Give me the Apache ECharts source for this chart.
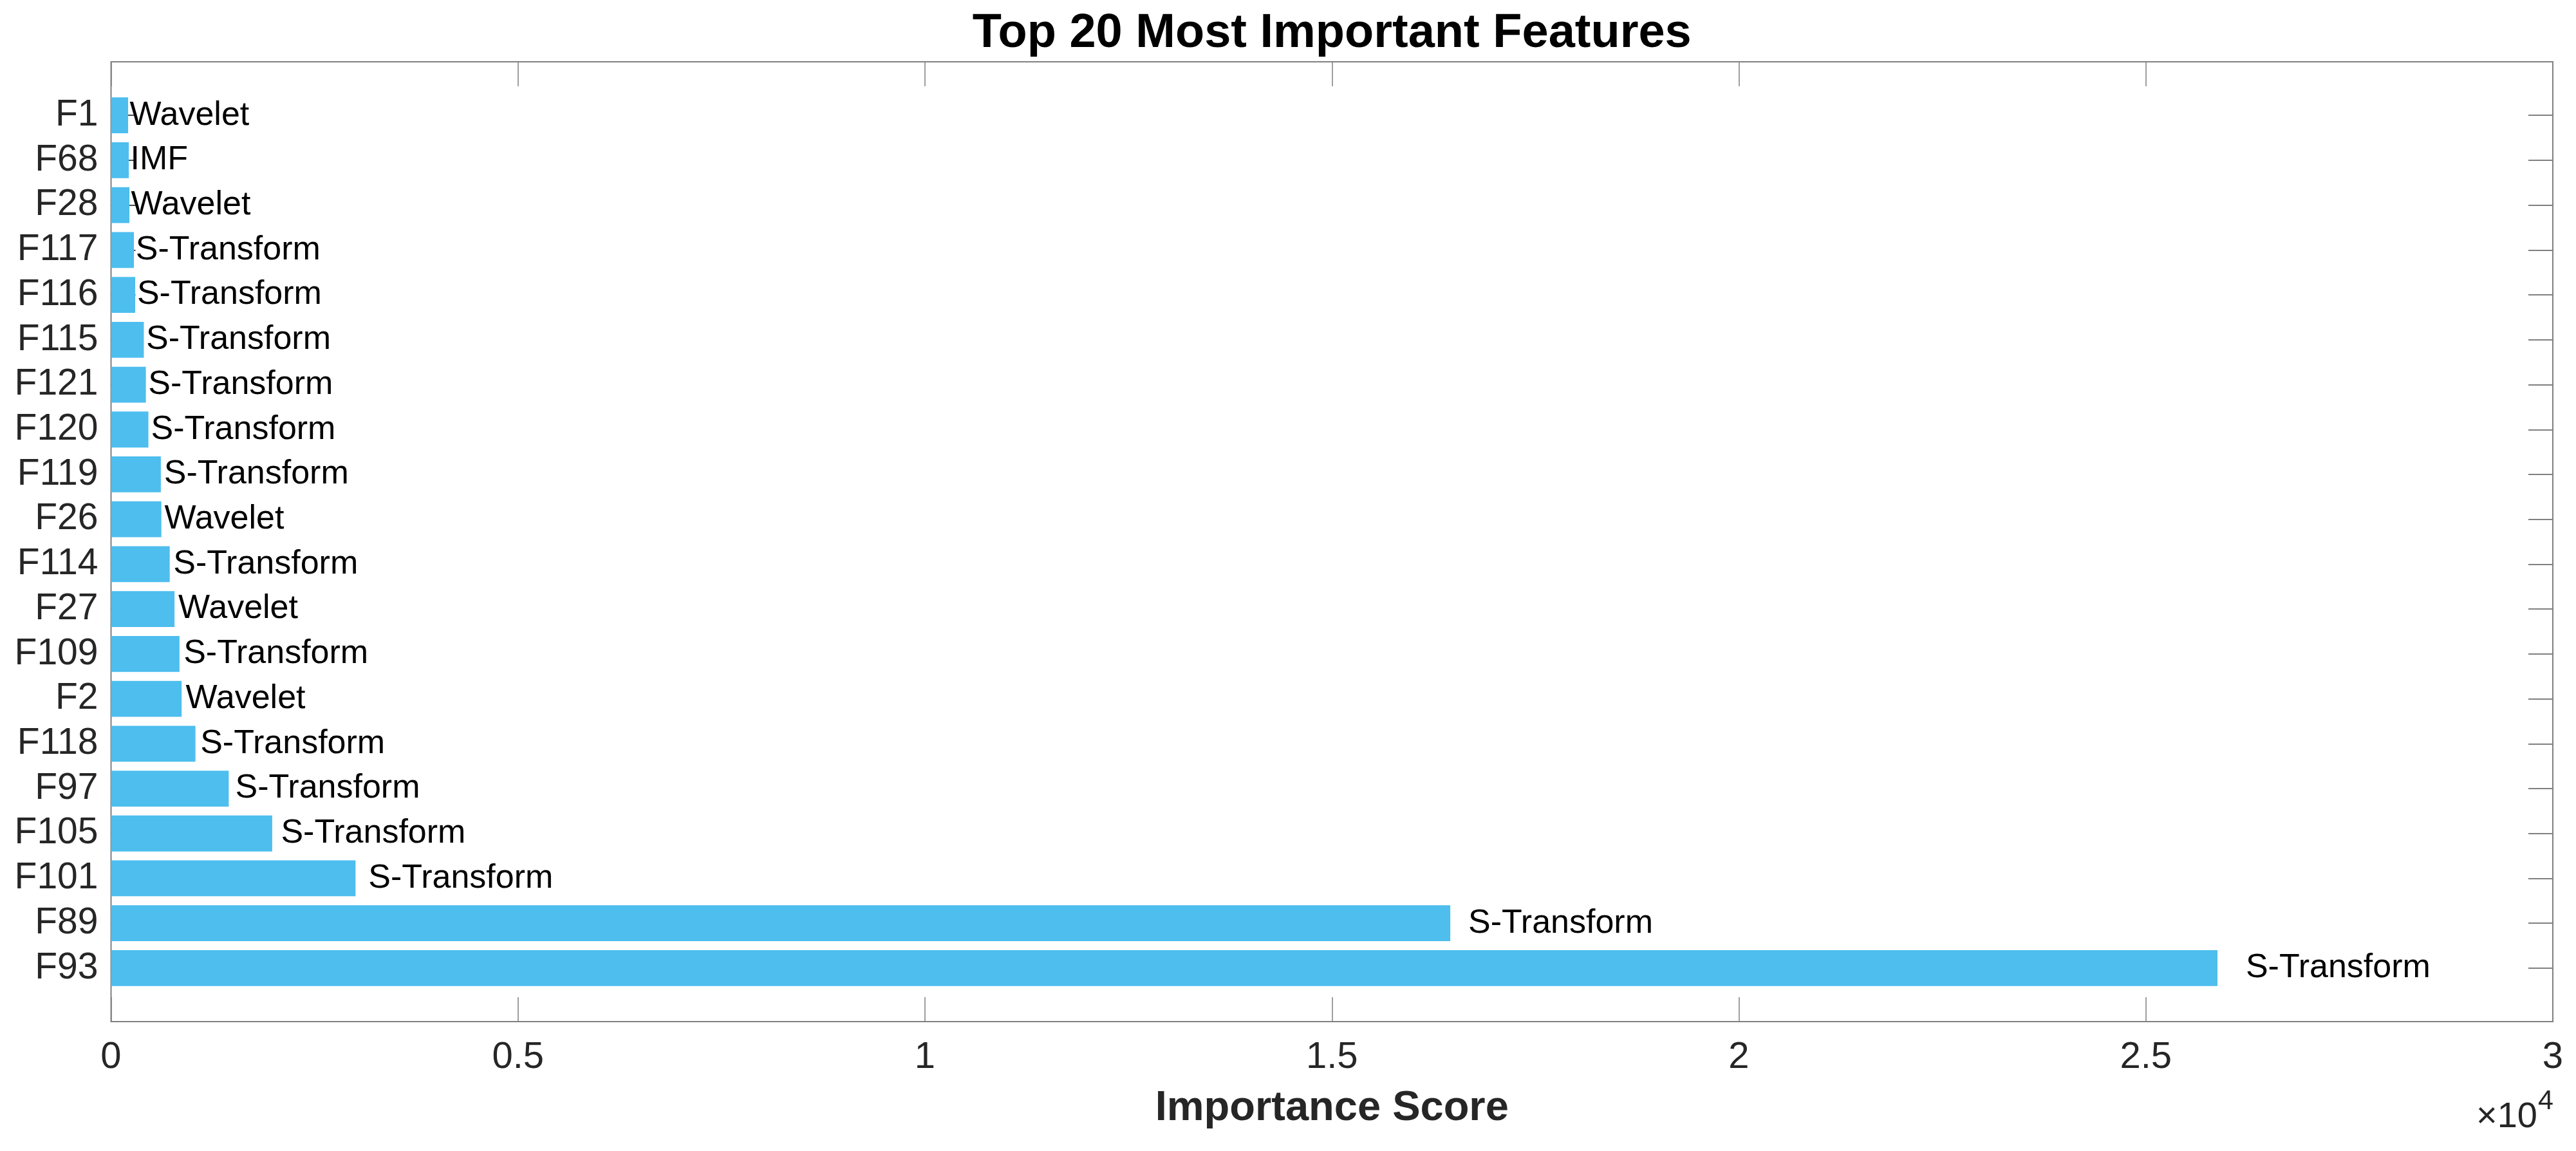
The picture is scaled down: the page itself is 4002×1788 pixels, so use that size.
<!DOCTYPE html>
<html>
<head>
<meta charset="utf-8">
<script src="https://cdn.jsdelivr.net/npm/echarts@6/dist/echarts.min.js"></script>
<style>
html,body{margin:0;padding:0;background:#fff;}
#chart{width:4002px;height:1788px;}
</style>
</head>
<body>
<div id="chart"></div>
<script>
// ---- data (top to bottom) ----
const features = ['F1','F68','F28','F117','F116','F115','F121','F120','F119','F26','F114','F27','F109','F2','F118','F97','F105','F101','F89','F93'];
const scores   = [210, 218, 226, 281, 297, 403, 428, 459, 612, 618, 721, 780, 841, 867, 1037, 1446, 1980, 3004, 16454, 25880];
const types    = ['Wavelet','IMF','Wavelet','S-Transform','S-Transform','S-Transform','S-Transform','S-Transform','S-Transform','Wavelet','S-Transform','Wavelet','S-Transform','Wavelet','S-Transform','S-Transform','S-Transform','S-Transform','S-Transform','S-Transform'];
const xTicks   = [0, 5000, 10000, 15000, 20000, 25000, 30000];

const FONT = "'Liberation Sans', Arial, Helvetica, sans-serif";
const W = 4002, H = 1788;
const plotL = 172.5, plotR = 3966, plotT = 96, plotB = 1587;
const slot = 69.72;
const xMax = xTicks[xTicks.length - 1];
const xStep = xTicks[1] - xTicks[0];
const pxPerUnit = (plotR - plotL) / xMax;

const cats = [' '].concat(features).concat(['  ']);
const barData = ['-'].concat(scores.map(function (v) {
  const len = v * pxPerUnit;
  const d = len <= 400 ? 0.05 * len + 1 : 0.0134 * len;
  return { value: v, label: { distance: d } };
})).concat(['-']);

const chart = echarts.init(document.getElementById('chart'), null, {renderer: 'canvas'});
const frameColor = '#808080';
const tickColor = '#4a4a4a';
const textColor = '#262626';

const option = {
  animation: false,
  backgroundColor: '#ffffff',
  title: [
    {
      text: 'Top 20 Most Important Features',
      left: (plotL + plotR) / 2, textAlign: 'center', top: 15.5, padding: 0,
      textStyle: { fontFamily: FONT, fontSize: 74, fontWeight: 'bold', color: '#000' }
    },
    {
      text: '\u00d710',
      left: 3942, textAlign: 'right', top: 1708, padding: 0,
      textStyle: { fontFamily: FONT, fontSize: 56, fontWeight: 'normal', color: textColor }
    },
    {
      text: '4',
      left: 3943, textAlign: 'left', top: 1690, padding: 0,
      textStyle: { fontFamily: FONT, fontSize: 43, fontWeight: 'normal', color: textColor }
    }
  ],
  grid: [
    { left: plotL, right: W - plotR, top: plotT, bottom: H - plotB, show: true, borderColor: frameColor, borderWidth: 2, backgroundColor: 'transparent', containLabel: false },
    { left: plotL, right: W - plotR, top: plotT + 13.5, height: slot * 21, containLabel: false }
  ],
  xAxis: [
    {
      gridIndex: 0, type: 'value', min: 0, max: xMax, interval: xStep, position: 'bottom',
      axisLine: { show: false },
      axisTick: { show: true, inside: true, length: 38, lineStyle: { color: frameColor, width: 1.5 } },
      splitLine: { show: false },
      axisLabel: { show: true, margin: 27, fontFamily: FONT, fontSize: 58, color: textColor,
        formatter: function (v) { return String(v / 10000); } },
      name: 'Importance Score', nameLocation: 'middle', nameGap: 103,
      nameTextStyle: { fontFamily: FONT, fontSize: 65, fontWeight: 'bold', color: textColor }
    },
    {
      gridIndex: 0, type: 'value', min: 0, max: xMax, interval: xStep, position: 'top',
      axisLine: { show: false },
      axisTick: { show: true, inside: true, length: 38, lineStyle: { color: frameColor, width: 1.5 } },
      splitLine: { show: false }, axisLabel: { show: false }
    },
    {
      gridIndex: 1, type: 'value', min: 0, max: xMax, show: false
    }
  ],
  yAxis: [
    { gridIndex: 0, type: 'value', min: 0, max: 1, show: false },
    {
      gridIndex: 1, type: 'category', data: cats, inverse: true, boundaryGap: false, position: 'left',
      axisLine: { show: false },
      axisTick: { show: true, inside: true, length: 38,
        interval: function (i, v) { return String(v).trim() !== ''; },
        lineStyle: { color: tickColor, width: 2 } },
      axisLabel: { show: true, interval: 0, margin: 20, fontFamily: FONT, fontSize: 57, color: textColor },
      splitLine: { show: false }
    },
    {
      gridIndex: 1, type: 'category', data: cats, inverse: true, boundaryGap: false, position: 'right',
      axisLine: { show: false },
      axisTick: { show: true, inside: true, length: 38,
        interval: function (i, v) { return String(v).trim() !== ''; },
        lineStyle: { color: frameColor, width: 2 } },
      axisLabel: { show: false },
      splitLine: { show: false }
    }
  ],
  series: [
    {
      type: 'bar',
      xAxisIndex: 2, yAxisIndex: 1,
      data: barData,
      barWidth: '80%',
      itemStyle: { color: '#4DBEEE' },
      emphasis: { disabled: true },
      z: 1,
      label: {
        show: true, position: 'right', color: '#000', fontFamily: FONT, fontSize: 52,
        formatter: function (p) { return types[p.dataIndex - 1]; }
      }
    }
  ]
};
chart.setOption(option);
</script>
</body>
</html>
